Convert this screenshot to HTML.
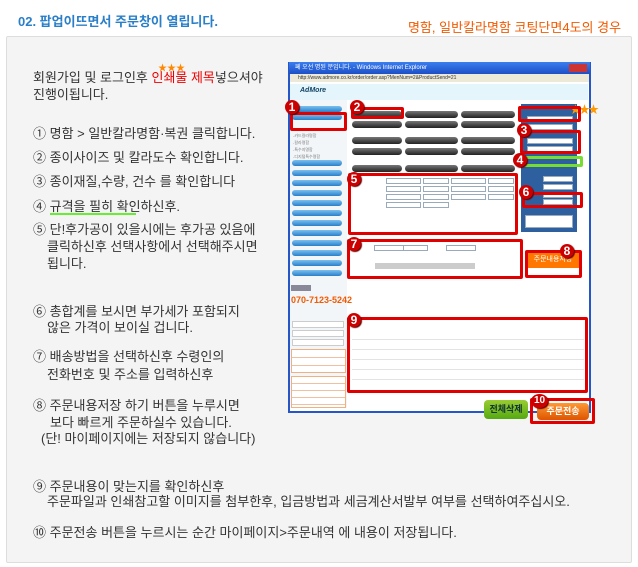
<!DOCTYPE html>
<html><head><meta charset="utf-8"><style>
*{margin:0;padding:0;box-sizing:border-box}
body{width:638px;height:567px;background:#fff;position:relative;overflow:hidden;font-family:"Liberation Sans","Noto Sans CJK KR","NanumGothic",sans-serif}
.a{position:absolute}
.t{position:absolute;font-size:13px;color:#333;white-space:nowrap;line-height:14px}
.rb{position:absolute;border:3px solid #e00000;border-radius:2px}
.bd{position:absolute;width:14px;height:14px;border-radius:50%;background:#c00;color:#fff;font-weight:bold;font-size:12px;line-height:14px;text-align:center;box-shadow:1px 1px 1px #600}
.pill{position:absolute;height:7px;border-radius:4px;background:linear-gradient(#777,#222)}
.bp{position:absolute;height:6px;border-radius:3px;background:linear-gradient(#7bc0f0,#2a7fc9);width:50px;left:292px}
.in{position:absolute;height:6px;border:1px solid #9ab;background:#fff}
</style></head><body>
<div class="a" style="left:18px;top:11px;font-size:13px;font-weight:bold;color:#2a7fc9">02. 팝업이뜨면서 주문창이 열립니다.</div>
<div class="a" style="left:408px;top:17px;font-size:13px;color:#f05a00;white-space:nowrap">명함, 일반칼라명함 코팅단면4도의 경우</div>
<div class="a" style="left:6px;top:36px;width:626px;height:527px;background:#f4f4f4;border:1px solid #ddd;border-radius:2px"></div>

<div class="a" style="left:158px;top:61px;font-size:9px;color:#f80">★★★</div>
<div class="t" style="left:33px;top:71px">회원가입 및 로그인후 <span style="color:#e00">인쇄물 제목</span>넣으셔야</div>
<div class="t" style="left:33px;top:88px">진행이됩니다.</div>
<div class="t" style="left:33px;top:127px">① 명함 &gt; 일반칼라명함·복권 클릭합니다.</div>
<div class="t" style="left:33px;top:151px">② 종이사이즈 및 칼라도수 확인합니다.</div>
<div class="t" style="left:33px;top:175px">③ 종이재질,수량, 건수 를 확인합니다</div>
<div class="t" style="left:33px;top:200px">④ 규격을 필히 확인하신후.</div>
<div class="a" style="left:50px;top:213px;width:86px;height:2px;background:#6e3"></div>
<div class="t" style="left:33px;top:223px">⑤ 단!후가공이 있을시에는 후가공 있음에</div>
<div class="t" style="left:47px;top:240px">클릭하신후 선택사항에서 선택해주시면</div>
<div class="t" style="left:47px;top:257px">됩니다.</div>
<div class="t" style="left:33px;top:305px">⑥ 총합계를 보시면 부가세가 포함되지</div>
<div class="t" style="left:47px;top:321px">않은 가격이 보이실 겁니다.</div>
<div class="t" style="left:33px;top:350px">⑦ 배송방법을 선택하신후 수령인의</div>
<div class="t" style="left:47px;top:368px">전화번호 및 주소를 입력하신후</div>
<div class="t" style="left:33px;top:399px">⑧ 주문내용저장 하기 버튼을 누루시면</div>
<div class="t" style="left:50px;top:416px">보다 빠르게 주문하실수 있습니다.</div>
<div class="t" style="left:41px;top:432px">(단! 마이페이지에는 저장되지 않습니다)</div>
<div class="t" style="left:33px;top:480px">⑨ 주문내용이 맞는지를 확인하신후</div>
<div class="t" style="left:47px;top:495px">주문파일과 인쇄참고할 이미지를 첨부한후, 입금방법과 세금계산서발부 여부를 선택하여주십시오.</div>
<div class="t" style="left:33px;top:526px">⑩ 주문전송 버튼을 누르시는 순간 마이페이지&gt;주문내역 에 내용이 저장됩니다.</div>

<!-- window -->
<div class="a" style="left:288px;top:62px;width:303px;height:351px;background:#fff;border:2px solid #2456c8"></div>
<div class="a" style="left:289px;top:62px;width:301px;height:12px;background:linear-gradient(#3a7ef0,#1d4fc6);color:#fff;font-size:6px;line-height:12px;padding-left:6px">페 오선 명된 분입니다. - Windows Internet Explorer</div>
<div class="a" style="left:569px;top:64px;width:18px;height:8px;background:#c33"></div>
<div class="a" style="left:290px;top:74px;width:299px;height:8px;background:#ece9d8;font-size:5px;line-height:8px;padding-left:8px;color:#333">http://www.admore.co.kr/order/order.asp?MenNum=2&amp;ProductSend=21</div>
<div class="a" style="left:290px;top:84px;width:298px;height:16px;background:#e4f6fb"></div>
<div class="a" style="left:300px;top:87px;font-size:7px;color:#146;font-style:italic;font-weight:bold">AdMore</div>
<div class="a" style="left:290px;top:100px;width:57px;height:308px;background:#f3f6f9"></div>
<div class="bp" style="top:106px"></div><div class="bp" style="top:114px"></div>
<div class="a" style="left:293px;top:132px;font-size:4px;color:#777;line-height:7px">-카드칼라명함<br>-칼라명함<br>-특수지명함<br>-디지털특수명함</div>
<div class="bp" style="top:160px"></div><div class="bp" style="top:170px"></div><div class="bp" style="top:180px"></div><div class="bp" style="top:190px"></div><div class="bp" style="top:200px"></div><div class="bp" style="top:210px"></div><div class="bp" style="top:220px"></div><div class="bp" style="top:230px"></div><div class="bp" style="top:240px"></div><div class="bp" style="top:250px"></div><div class="bp" style="top:260px"></div><div class="bp" style="top:270px"></div>
<div class="a" style="left:291px;top:285px;width:20px;height:6px;background:#889"></div>
<div class="a" style="left:291px;top:295px;font-size:9px;font-weight:bold;color:#f05a00;white-space:nowrap">070-7123-5242</div>
<div class="a" style="left:292px;top:321px;width:52px;height:7px;border:1px solid #ccc;background:#fff"></div>
<div class="a" style="left:292px;top:330px;width:52px;height:7px;border:1px solid #ccc;background:#fff"></div>
<div class="a" style="left:292px;top:339px;width:52px;height:7px;border:1px solid #ccc;background:#fff"></div>
<div class="a" style="left:291px;top:349px;width:55px;height:24px;border:1px solid #f0b080;background:repeating-linear-gradient(#fff 0 7px,#f0c0a0 7px 8px)"></div>
<div class="a" style="left:291px;top:376px;width:55px;height:32px;border:1px solid #f0b080;background:repeating-linear-gradient(#fff 0 6px,#f0c0a0 6px 7px)"></div>

<div class="pill" style="left:352px;top:111px;width:50px"></div><div class="pill" style="left:405px;top:111px;width:53px"></div><div class="pill" style="left:461px;top:111px;width:54px"></div>
<div class="pill" style="left:352px;top:121px;width:50px"></div><div class="pill" style="left:405px;top:121px;width:53px"></div><div class="pill" style="left:461px;top:121px;width:54px"></div>
<div class="pill" style="left:352px;top:137px;width:50px"></div><div class="pill" style="left:405px;top:137px;width:53px"></div><div class="pill" style="left:461px;top:137px;width:54px"></div>
<div class="pill" style="left:352px;top:148px;width:50px"></div><div class="pill" style="left:405px;top:148px;width:53px"></div><div class="pill" style="left:461px;top:148px;width:54px"></div>
<div class="pill" style="left:352px;top:165px;width:50px"></div><div class="pill" style="left:405px;top:165px;width:53px"></div><div class="pill" style="left:461px;top:165px;width:54px"></div>
<div class="a" style="left:521px;top:104px;width:56px;height:128px;background:#2e5f9e"></div>
<div class="in" style="left:527px;top:116px;width:46px;height:6px"></div>
<div class="in" style="left:527px;top:124px;width:46px;height:6px"></div>
<div class="in" style="left:527px;top:138px;width:46px;height:6px"></div>
<div class="in" style="left:527px;top:146px;width:46px;height:6px"></div>
<div class="in" style="left:543px;top:176px;width:30px"></div><div class="in" style="left:543px;top:184px;width:30px"></div><div class="in" style="left:543px;top:192px;width:30px"></div><div class="in" style="left:543px;top:199px;width:30px"></div>
<div class="in" style="left:525px;top:215px;width:48px;height:13px"></div>
<div class="a" style="left:570px;top:101px;font-size:11px;color:#f90;letter-spacing:-2px">★★★</div>
<div class="in" style="left:386px;top:178px;width:35px"></div><div class="in" style="left:423px;top:178px;width:26px"></div><div class="in" style="left:451px;top:178px;width:35px"></div><div class="in" style="left:488px;top:178px;width:26px"></div>
<div class="in" style="left:386px;top:186px;width:35px"></div><div class="in" style="left:423px;top:186px;width:26px"></div><div class="in" style="left:451px;top:186px;width:35px"></div><div class="in" style="left:488px;top:186px;width:26px"></div>
<div class="in" style="left:386px;top:194px;width:35px"></div><div class="in" style="left:423px;top:194px;width:26px"></div><div class="in" style="left:451px;top:194px;width:35px"></div><div class="in" style="left:488px;top:194px;width:26px"></div>
<div class="in" style="left:386px;top:202px;width:35px"></div><div class="in" style="left:423px;top:202px;width:26px"></div>
<div class="in" style="left:374px;top:245px;width:30px"></div><div class="in" style="left:403px;top:245px;width:25px"></div><div class="in" style="left:446px;top:245px;width:30px"></div>
<div class="a" style="left:375px;top:263px;width:100px;height:6px;background:#ccc"></div>
<div class="a" style="left:352px;top:330px;width:232px;height:55px;background:repeating-linear-gradient(#fff 0 9px,#e3e3e3 9px 10px)"></div>
<div class="a" style="left:484px;top:400px;width:44px;height:19px;border-radius:4px;background:linear-gradient(#9c3,#5a1);color:#133;font-size:9px;font-weight:bold;line-height:19px;text-align:center">전체삭제</div>
<div class="a" style="left:537px;top:403px;width:52px;height:17px;border-radius:4px;background:linear-gradient(#f93,#d50);color:#fff;font-size:9px;font-weight:bold;line-height:17px;text-align:center">주문전송</div>
<div class="a" style="left:527px;top:252px;width:52px;height:16px;background:#f70;color:#fff;font-size:7px;line-height:16px;text-align:center">주문내용저장</div>
<div class="rb" style="left:290px;top:112px;width:57px;height:19px"></div>
<div class="rb" style="left:351px;top:107px;width:53px;height:12px"></div>
<div class="rb" style="left:518px;top:106px;width:63px;height:16px"></div>
<div class="rb" style="left:520px;top:130px;width:61px;height:24px"></div>
<div class="rb" style="left:522px;top:156px;width:61px;height:11px;border-color:#7d3"></div>
<div class="rb" style="left:348px;top:173px;width:170px;height:62px"></div>
<div class="rb" style="left:522px;top:192px;width:61px;height:16px"></div>
<div class="rb" style="left:347px;top:239px;width:176px;height:40px"></div>
<div class="rb" style="left:525px;top:250px;width:57px;height:28px"></div>
<div class="rb" style="left:347px;top:317px;width:241px;height:76px"></div>
<div class="rb" style="left:530px;top:398px;width:65px;height:26px"></div>
<div class="bd" style="left:285px;top:100px">1</div>
<div class="bd" style="left:350px;top:100px">2</div>
<div class="bd" style="left:517px;top:123px">3</div>
<div class="bd" style="left:513px;top:153px">4</div>
<div class="bd" style="left:347px;top:172px">5</div>
<div class="bd" style="left:519px;top:185px">6</div>
<div class="bd" style="left:347px;top:237px">7</div>
<div class="bd" style="left:560px;top:244px">8</div>
<div class="bd" style="left:347px;top:313px">9</div>
<div class="bd" style="left:531px;top:394px;width:17px;font-size:10px">10</div>
</body></html>
